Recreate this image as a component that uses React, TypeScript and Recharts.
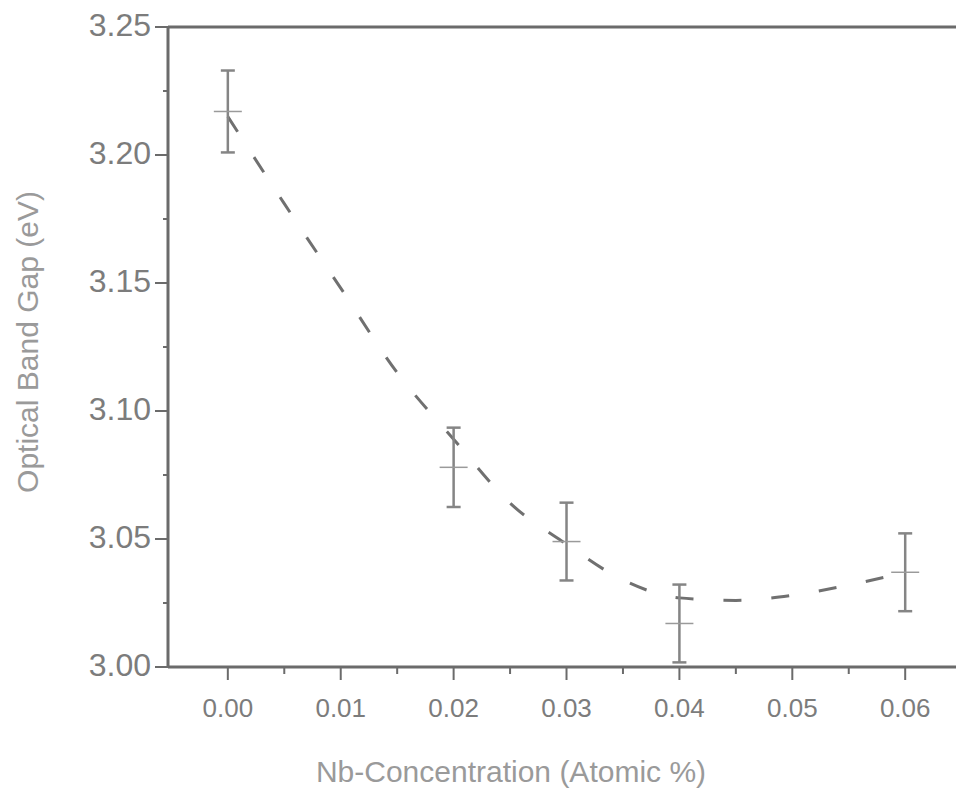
import { ComposedChart, Line, Scatter, ErrorBar, XAxis, YAxis, ReferenceLine } from 'recharts'

// measured points (Nb concentration vs optical band gap)
const concentration = [0, 0.02, 0.03, 0.04, 0.06]
const bandGap = [3.217, 3.078, 3.049, 3.017, 3.037]
const bandGapErr = [0.016, 0.0155, 0.0152, 0.0152, 0.0152]

// dashed guide curve
const fitX = [0, 0.005, 0.01, 0.015, 0.02, 0.025, 0.03, 0.035, 0.04, 0.045, 0.05, 0.055, 0.06]
const fitY = [3.215, 3.181, 3.148, 3.115, 3.089, 3.064, 3.048, 3.034, 3.027, 3.026, 3.028, 3.032, 3.037]

const xMajor = [0, 0.01, 0.02, 0.03, 0.04, 0.05, 0.06]
const xMinor = [0.005, 0.015, 0.025, 0.035, 0.045, 0.055]
const yMajor = [3.0, 3.05, 3.1, 3.15, 3.2, 3.25]
const yMinor = [3.025, 3.075, 3.125, 3.175, 3.225]

const points = concentration.map((x, i) => ({ x, y: bandGap[i], err: bandGapErr[i] }))
const fit = fitX.map((x, i) => ({ x, y: fitY[i] }))

const axisColor = '#6b6b6b'
const tickColor = '#7c7c7c'
const titleColor = '#9a9a9a'
const font = 'Liberation Sans, Arial, sans-serif'

function XTick({ x, y, payload }: any) {
  const major = xMajor.includes(payload.value)
  return (
    <g>
      <line x1={x} x2={x} y1={y} y2={y + (major ? 13 : 7)} stroke={axisColor} strokeWidth={2} />
      {major && (
        <text x={x} y={y + 50} textAnchor="middle" fill={tickColor} fontSize={26} fontFamily={font}>
          {payload.value.toFixed(2)}
        </text>
      )}
    </g>
  )
}

function YTick({ x, y, payload }: any) {
  const major = yMajor.includes(payload.value)
  return (
    <g>
      <line x1={x - (major ? 13 : 5)} x2={x} y1={y} y2={y} stroke={axisColor} strokeWidth={2} />
      {major && (
        <text x={x - 17} y={y + 9} textAnchor="end" fill={tickColor} fontSize={32} fontFamily={font}>
          {payload.value.toFixed(2)}
        </text>
      )}
    </g>
  )
}

function Cross({ cx, cy }: any) {
  return <line x1={cx - 14} x2={cx + 14} y1={cy} y2={cy} stroke="#9a9a9a" strokeWidth={1.5} />
}

export default function App() {
  return (
    <div style={{ position: 'absolute', left: 0, top: 0, width: 956, height: 801, background: '#fff' }}>
      <ComposedChart width={956} height={801} margin={{ top: 27, right: 0, left: 0, bottom: 0 }}>
        <XAxis
          dataKey="x"
          type="number"
          domain={[-0.0053, 0.0645]}
          allowDataOverflow
          ticks={[...xMajor, ...xMinor].sort((a, b) => a - b)}
          interval={0}
          height={134}
          tickSize={0}
          tickMargin={0}
          tickLine={false}
          tick={<XTick />}
          axisLine={{ stroke: axisColor, strokeWidth: 3 }}
          label={{
            content: () => (
              <text x={511} y={782} textAnchor="middle" fill={titleColor} fontSize={30} fontFamily={font}>
                Nb-Concentration (Atomic %)
              </text>
            ),
          }}
        />
        <YAxis
          type="number"
          domain={[3.0, 3.25]}
          allowDataOverflow
          ticks={[...yMajor, ...yMinor].sort((a, b) => a - b)}
          interval={0}
          width={168}
          tickSize={0}
          tickMargin={0}
          tickLine={false}
          tick={<YTick />}
          axisLine={{ stroke: axisColor, strokeWidth: 3 }}
          label={{
            content: () => (
              <text
                x={38}
                y={342}
                transform="rotate(-90 38 342)"
                textAnchor="middle"
                fill={titleColor}
                fontSize={30}
                fontFamily={font}
              >
                Optical Band Gap (eV)
              </text>
            ),
          }}
        />
        <ReferenceLine y={3.25} stroke={axisColor} strokeWidth={3} />
        <Line
          data={fit}
          dataKey="y"
          type="monotone"
          stroke="#707070"
          strokeWidth={3}
          strokeDasharray="18 30"
          dot={false}
          activeDot={false}
          isAnimationActive={false}
        />
        <Scatter data={points} dataKey="y" shape={<Cross />} isAnimationActive={false}>
          <ErrorBar dataKey="err" direction="y" width={7} stroke="#858585" strokeWidth={2.5} />
        </Scatter>
      </ComposedChart>
    </div>
  )
}
